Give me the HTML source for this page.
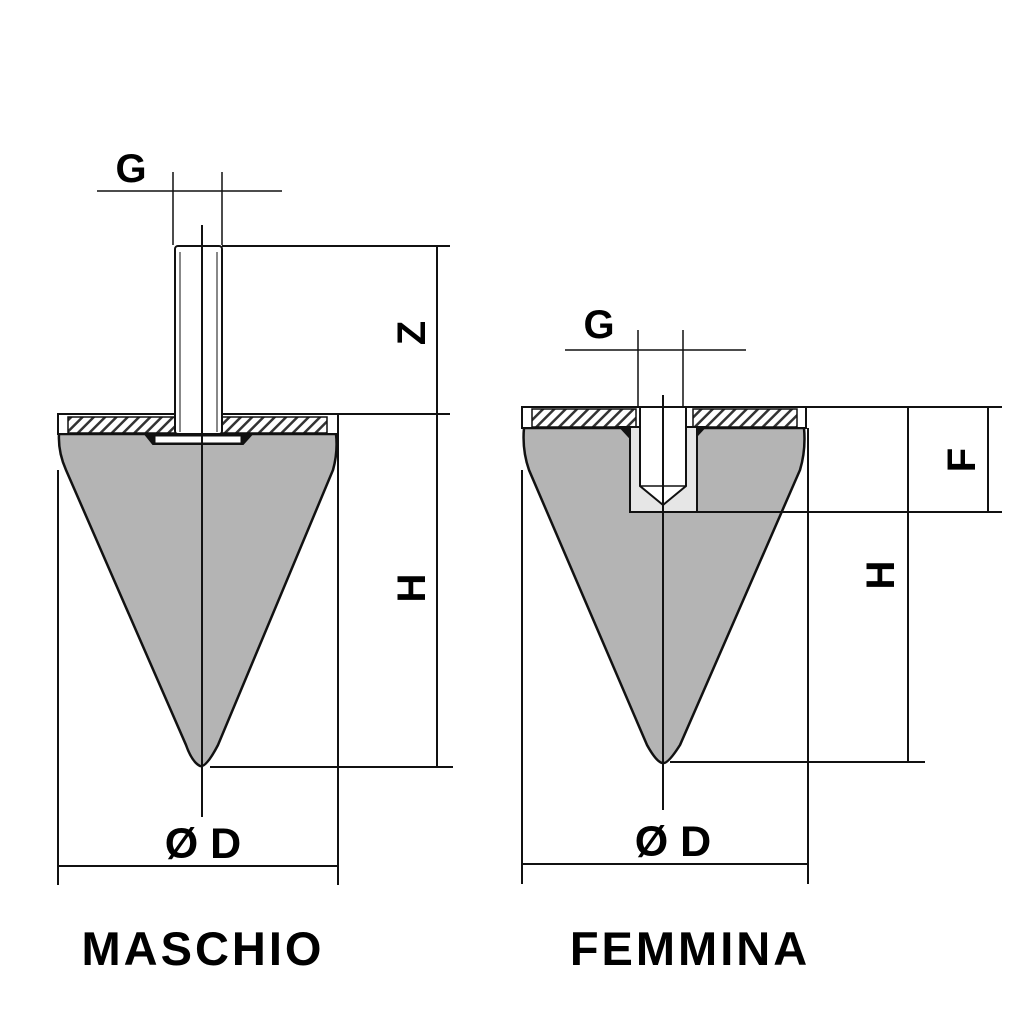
<!DOCTYPE html>
<html><head><meta charset="utf-8"><style>
html,body{margin:0;padding:0;background:#fff;}
svg{display:block;}
text{font-family:"Liberation Sans",Arial,sans-serif;font-weight:bold;fill:#000;}
</style></head><body>
<svg width="1034" height="1034" viewBox="0 0 1034 1034" xmlns="http://www.w3.org/2000/svg">
<defs>
<pattern id="h" width="8" height="8" patternUnits="userSpaceOnUse" patternTransform="rotate(45)">
<rect width="8" height="8" fill="#fff"/><rect width="2.5" height="8" fill="#333"/>
</pattern>
</defs>
<g stroke="#111" stroke-width="2" fill="none">
<!-- LEFT -->
<path d="M59,434 L336,434 Q338,452 333,470 L218,745 Q206,768 200,766 Q192,762 186,745 L66,470 Q58,452 59,434 Z" fill="#b4b4b4" stroke-width="2.5"/>
<rect x="58" y="414" width="280" height="20" fill="#fff"/>
<rect x="68" y="417" width="259" height="16" fill="url(#h)" stroke-width="1.5"/>
<path d="M145,434 L153,444 L243,444 L252,434 Z" fill="#111"/>
<rect x="155" y="436" width="86" height="7" fill="#fff" stroke-width="1"/>
<rect x="175" y="246" width="47" height="188" fill="#fff" rx="3"/>
<line x1="180" y1="252" x2="180" y2="432" stroke-width="1"/>
<line x1="217" y1="252" x2="217" y2="432" stroke-width="1"/>
<line x1="202" y1="225" x2="202" y2="817" stroke-width="2"/>
<!-- G -->
<line x1="97" y1="191" x2="282" y2="191" stroke-width="1.5"/>
<line x1="173" y1="172" x2="173" y2="245" stroke-width="1.5"/>
<line x1="222" y1="172" x2="222" y2="245" stroke-width="1.5"/>
<!-- Z / H -->
<line x1="222" y1="246" x2="450" y2="246"/>
<line x1="338" y1="414" x2="450" y2="414"/>
<line x1="437" y1="246" x2="437" y2="768"/>
<line x1="210" y1="767" x2="453" y2="767"/>
<!-- D -->
<line x1="58" y1="470" x2="58" y2="885"/>
<line x1="338" y1="434" x2="338" y2="885"/>
<line x1="58" y1="866" x2="338" y2="866"/>

<!-- RIGHT -->
<path d="M524,428 L804,428 Q806,450 800,470 L680,745 Q668,764 663,763 Q657,763 647,745 L529,470 Q522,450 524,428 Z" fill="#b4b4b4" stroke-width="2.5"/>
<rect x="522" y="407" width="284" height="21" fill="#fff"/>
<rect x="532" y="409" width="104" height="18" fill="url(#h)" stroke-width="1.5"/>
<rect x="693" y="409" width="104" height="18" fill="url(#h)" stroke-width="1.5"/>
<path d="M620,427 L632,440 L632,427 Z M705,427 L693,440 L693,427 Z" fill="#111"/>
<rect x="630" y="427" width="67" height="85" fill="#e6e6e6"/>
<path d="M640,408 L640,486 L663,505 L686,486 L686,408" fill="#fff"/>
<line x1="640" y1="486" x2="686" y2="486" stroke-width="1.5"/>
<line x1="663" y1="395" x2="663" y2="810" stroke-width="2"/>
<!-- G -->
<line x1="565" y1="350" x2="746" y2="350" stroke-width="1.5"/>
<line x1="638" y1="330" x2="638" y2="408" stroke-width="1.5"/>
<line x1="683" y1="330" x2="683" y2="408" stroke-width="1.5"/>
<!-- F / H -->
<line x1="806" y1="407" x2="1002" y2="407"/>
<line x1="697" y1="512" x2="1002" y2="512"/>
<line x1="988" y1="407" x2="988" y2="512"/>
<line x1="908" y1="407" x2="908" y2="762"/>
<line x1="670" y1="762" x2="925" y2="762"/>
<!-- D -->
<line x1="522" y1="470" x2="522" y2="884"/>
<line x1="808" y1="428" x2="808" y2="884"/>
<line x1="522" y1="864" x2="808" y2="864"/>
</g>
<text x="131" y="182" font-size="40" text-anchor="middle">G</text>
<text x="599" y="338" font-size="40" text-anchor="middle">G</text>
<text transform="translate(425,333) rotate(-90)" font-size="40" text-anchor="middle">Z</text>
<text transform="translate(425,588) rotate(-90)" font-size="40" text-anchor="middle">H</text>
<text transform="translate(894,575) rotate(-90)" font-size="40" text-anchor="middle">H</text>
<text transform="translate(975,460) rotate(-90)" font-size="40" text-anchor="middle">F</text>
<text x="203" y="858" font-size="43" text-anchor="middle">Ø D</text>
<text x="673" y="856" font-size="43" text-anchor="middle">Ø D</text>
<text x="203" y="965" font-size="47" text-anchor="middle" letter-spacing="3">MASCHIO</text>
<text x="690" y="965" font-size="47" text-anchor="middle" letter-spacing="3">FEMMINA</text>
</svg>
</body></html>
